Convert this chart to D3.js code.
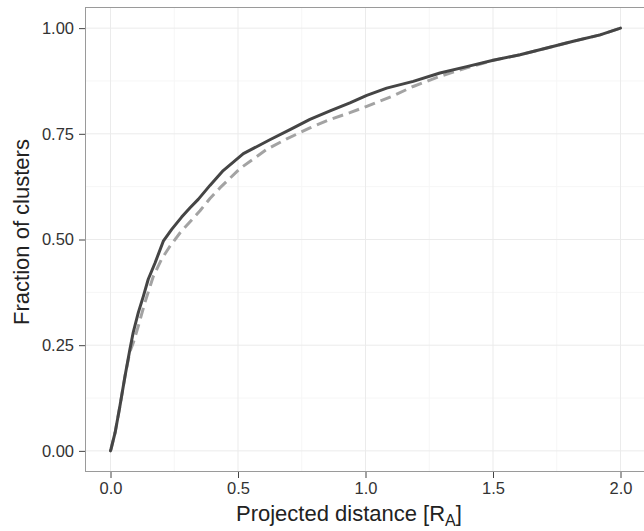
<!DOCTYPE html>
<html><head><meta charset="utf-8">
<script src="https://cdn.jsdelivr.net/npm/d3@7"></script>
<style>body{margin:0;background:#fff}svg{display:block}</style>
</head><body>
<svg id="chart" width="644" height="531"></svg>
<script>
const solidX = [0.0,0.002,0.018,0.037,0.057,0.076,0.089,0.109,0.129,0.148,0.175,0.207,0.240,0.279,0.312,0.344,0.390,0.442,0.521,0.625,0.704,0.782,0.861,0.939,1.005,1.083,1.187,1.292,1.397,1.501,1.606,1.711,1.815,1.920,2.0];
const solidY = [0.0,0.004,0.043,0.106,0.177,0.240,0.280,0.327,0.366,0.406,0.445,0.496,0.524,0.553,0.575,0.595,0.628,0.663,0.703,0.736,0.760,0.784,0.804,0.823,0.841,0.858,0.874,0.894,0.909,0.924,0.937,0.953,0.969,0.984,1.0];
const dashX = [0.0,0.002,0.018,0.037,0.057,0.076,0.089,0.109,0.135,0.168,0.200,0.233,0.273,0.312,0.351,0.390,0.429,0.508,0.612,0.691,0.782,0.861,0.939,1.005,1.109,1.187,1.292,1.397,1.501,1.606,1.711,1.815,1.920,2.0];
const dashY = [0.0,0.004,0.043,0.106,0.177,0.235,0.255,0.295,0.351,0.413,0.453,0.484,0.516,0.542,0.568,0.597,0.622,0.668,0.713,0.738,0.764,0.784,0.800,0.815,0.840,0.862,0.886,0.906,0.924,0.937,0.953,0.969,0.984,1.0];
const xTicks = [0, 0.5, 1.0, 1.5, 2.0];
const yTicks = [0, 0.25, 0.5, 0.75, 1.0];
const xMinor = [0.25, 0.75, 1.25, 1.75];
const yMinor = [0.125, 0.375, 0.625, 0.875];

const svg = d3.select("#chart");
const L = 85, T = 7, R = 646, B = 472;
const x = d3.scaleLinear().domain([-0.1, 2.1]).range([L, R]);
const y = d3.scaleLinear().domain([-0.05, 1.05]).range([B, T]);

const g = svg.append("g");
g.append("rect").attr("x", L).attr("y", T).attr("width", R - L).attr("height", B - T).attr("fill", "#fff");
g.selectAll(".xm").data(xMinor).join("line").attr("x1", d => x(d)).attr("x2", d => x(d)).attr("y1", T).attr("y2", B).attr("stroke", "#f6f6f6").attr("stroke-width", 1);
g.selectAll(".ym").data(yMinor).join("line").attr("y1", d => y(d)).attr("y2", d => y(d)).attr("x1", L).attr("x2", R).attr("stroke", "#f6f6f6").attr("stroke-width", 1);
g.selectAll(".xg").data(xTicks).join("line").attr("x1", d => x(d)).attr("x2", d => x(d)).attr("y1", T).attr("y2", B).attr("stroke", "#ebebeb").attr("stroke-width", 1);
g.selectAll(".yg").data(yTicks).join("line").attr("y1", d => y(d)).attr("y2", d => y(d)).attr("x1", L).attr("x2", R).attr("stroke", "#ebebeb").attr("stroke-width", 1);

const line = d3.line().x(d => x(d[0])).y(d => y(d[1]));
const dashPts = dashX.map((v, i) => [v, dashY[i]]);
const solidPts = solidX.map((v, i) => [v, solidY[i]]);
svg.append("path").datum(dashPts).attr("d", line).attr("fill", "none").attr("stroke", "#a3a3a3").attr("stroke-width", 3).attr("stroke-dasharray", "11,6").attr("stroke-linejoin", "round");
svg.append("path").datum(solidPts).attr("d", line).attr("fill", "none").attr("stroke", "#454545").attr("stroke-width", 3).attr("stroke-linejoin", "round").attr("stroke-linecap", "round");

svg.append("rect").attr("x", L + 0.5).attr("y", T + 0.5).attr("width", R - L).attr("height", B - T - 1).attr("fill", "none").attr("stroke", "#9a9a9a").attr("stroke-width", 1);

const xAxis = d3.axisBottom(x).tickValues(xTicks).tickFormat(d3.format(".1f")).tickSizeOuter(0).tickSizeInner(6).tickPadding(4);
const yAxis = d3.axisLeft(y).tickValues(yTicks).tickFormat(d3.format(".2f")).tickSizeOuter(0).tickSizeInner(6).tickPadding(5);
const gx = svg.append("g").attr("transform", `translate(0,${B})`).call(xAxis);
const gy = svg.append("g").attr("transform", `translate(${L},0)`).call(yAxis);
[gx, gy].forEach(a => {
  a.select(".domain").remove();
  a.selectAll(".tick line").attr("stroke", "#444");
  a.selectAll(".tick text").attr("fill", "#333").style("font-family", "'Liberation Sans', Arial, sans-serif").style("font-size", "16.5px");
});

svg.append("text").attr("x", 236).attr("y", 521).style("font-family", "'Liberation Sans', Arial, sans-serif").style("font-size", "22px").attr("fill", "#222")
  .text("Projected distance [R")
  .append("tspan").attr("dy", 5).style("font-size", "16px").text("A")
  .select(function(){return this.parentNode;})
  .append("tspan").attr("dy", -5).text("]");

svg.append("text").attr("transform", "translate(29,232) rotate(-90)").attr("text-anchor", "middle")
  .style("font-family", "'Liberation Sans', Arial, sans-serif").style("font-size", "22px").attr("fill", "#222")
  .text("Fraction of clusters");
</script>
</body></html>
